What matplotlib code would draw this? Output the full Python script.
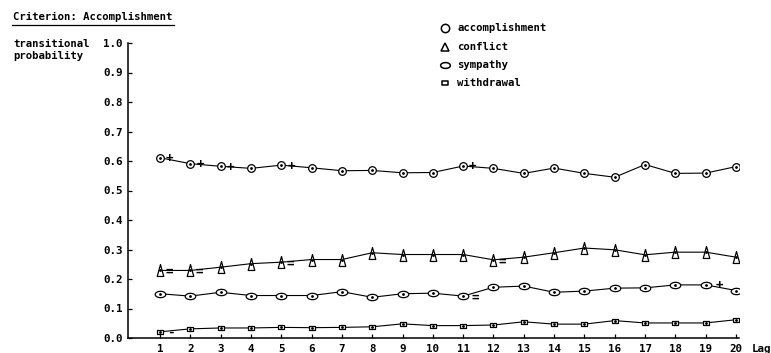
import matplotlib
matplotlib.use("Agg")
import matplotlib.pyplot as plt
import numpy as np
from matplotlib.path import Path
from matplotlib.lines import Line2D

# ---- data ----
lags = list(range(1, 21))
accomplishment = [0.611, 0.591, 0.582, 0.575, 0.586, 0.577, 0.567, 0.568, 0.560, 0.561,
                  0.583, 0.575, 0.558, 0.576, 0.558, 0.545, 0.588, 0.558, 0.559, 0.581]
conflict = [0.229, 0.229, 0.240, 0.252, 0.257, 0.266, 0.266, 0.289, 0.283, 0.283,
            0.283, 0.265, 0.274, 0.289, 0.305, 0.299, 0.282, 0.291, 0.291, 0.274]
sympathy = [0.150, 0.142, 0.155, 0.144, 0.144, 0.144, 0.157, 0.138, 0.150, 0.152,
            0.142, 0.172, 0.176, 0.155, 0.159, 0.169, 0.170, 0.180, 0.180, 0.161]
withdrawal = [0.021, 0.031, 0.034, 0.034, 0.036, 0.035, 0.036, 0.038, 0.048, 0.042,
              0.042, 0.044, 0.055, 0.047, 0.047, 0.059, 0.051, 0.051, 0.051, 0.062]
series_names = ["accomplishment", "conflict", "sympathy", "withdrawal"]
yticks = [0.0, 0.1, 0.2, 0.3, 0.4, 0.5, 0.6, 0.7, 0.8, 0.9, 1.0]

# significance marks: (series, lag, symbol)
marks = [("accomplishment", 1, "+"), ("accomplishment", 2, "+"), ("accomplishment", 3, "+"),
         ("accomplishment", 5, "+"), ("accomplishment", 11, "+"),
         ("conflict", 1, "="), ("conflict", 2, "="), ("conflict", 5, "="), ("conflict", 12, "="),
         ("sympathy", 11, "="), ("sympathy", 19, "+"),
         ("withdrawal", 1, "-")]

FONT = "DejaVu Sans Mono"
plt.rcParams["font.family"] = [FONT]
plt.rcParams["font.weight"] = "bold"

# custom marker shapes
tri = Path([(0, 1), (0.55, -1), (-0.55, -1), (0, 1)],
           [Path.MOVETO, Path.LINETO, Path.LINETO, Path.CLOSEPOLY])
t = np.linspace(0, 2 * np.pi, 60)
ell = Path(np.column_stack([np.cos(t), 0.6 * np.sin(t)]))
rect = Path([(-1, -0.7), (1, -0.7), (1, 0.7), (-1, 0.7), (-1, -0.7)],
            [Path.MOVETO, Path.LINETO, Path.LINETO, Path.LINETO, Path.CLOSEPOLY])

styles = {
    "accomplishment": dict(marker="o", ms=5.5),
    "conflict": dict(marker=tri, ms=8.6),
    "sympathy": dict(marker=ell, ms=7.6),
    "withdrawal": dict(marker=rect, ms=4.6),
}
data = {"accomplishment": accomplishment, "conflict": conflict,
        "sympathy": sympathy, "withdrawal": withdrawal}
# offsets (points) of the mark symbols relative to the data point (baseline-aligned)
mark_offsets = {"+": (7.0, -3.2), "=": (6.5, -3.2), "-": (7.5, -3.0)}

fig = plt.figure(figsize=(7.71, 3.53), dpi=100)
ax = fig.add_axes([128 / 771, 15 / 353, (739 - 128) / 771, (338 - 43) / 353])

for name in series_names:
    st = styles[name]
    ax.plot(lags, data[name], color="black", lw=0.8, marker=st["marker"], ms=st["ms"],
            mfc="white", mec="black", mew=0.9, zorder=3)
    ax.plot(lags, data[name], ls="none", marker="o", ms=1.0, color="black", zorder=4)

for name, lag, sym in marks:
    val = data[name][lags.index(lag)]
    dx, dy = mark_offsets[sym]
    if name == "sympathy":
        dx += 2.5
    ax.annotate(sym, xy=(lag, val), xytext=(dx, dy), textcoords="offset points",
                ha="center", va="baseline", fontsize=9, fontweight="bold", zorder=5)

ax.set_xlim(1 - 32 / 30.33, 20 + 3 / 30.33)
ax.set_ylim(0, 1.0)
ax.set_xticks(lags)
ax.set_xticklabels([str(l) for l in lags], fontsize=7.8, fontweight="bold")
ax.set_yticks(yticks)
ax.set_yticklabels([f"{v:.1f}" for v in yticks], fontsize=7.8, fontweight="bold")
ax.tick_params(axis="both", direction="in", length=3, width=0.9, colors="black")
ax.tick_params(axis="x", pad=4)
ax.tick_params(axis="y", pad=4)
for s in ["top", "right"]:
    ax.spines[s].set_visible(False)
for s in ["left", "bottom"]:
    ax.spines[s].set_linewidth(1.1)

# axis label "Lag"
fig.text(752 / 771, 1 - 349 / 353, "Lag", ha="left", va="center", fontsize=7.8, fontweight="bold")

# y-axis label
fig.text(13 / 771, 1 - 44 / 353, "transitional", ha="left", va="center", fontsize=7.7, fontweight="bold")
fig.text(13 / 771, 1 - 56 / 353, "probability", ha="left", va="center", fontsize=7.7, fontweight="bold")

# title with underline
fig.text(13 / 771, 1 - 17 / 353, "Criterion: Accomplishment", ha="left", va="center",
         fontsize=7.7, fontweight="bold")
fig.add_artist(Line2D([12 / 771, 174 / 771], [1 - 25 / 353, 1 - 25 / 353],
                      transform=fig.transFigure, color="black", lw=0.9))

# legend drawn manually
leg_rows = [28, 46.5, 65, 83]
legend_markers = {"accomplishment": ("o", 6.0), "conflict": ("^", 6.0),
                  "sympathy": (ell, 7.0), "withdrawal": (rect, 4.2)}
for name, yrow in zip(series_names, leg_rows):
    mk, ms = legend_markers[name]
    fig.add_artist(Line2D([445 / 771], [1 - yrow / 353], transform=fig.transFigure,
                          marker=mk, ms=ms, mfc="white", mec="black", mew=1.1, ls="none"))
    fig.text(457 / 771, 1 - yrow / 353, name, ha="left", va="center",
             fontsize=7.7, fontweight="bold")

fig.savefig("out.png", dpi=100)
